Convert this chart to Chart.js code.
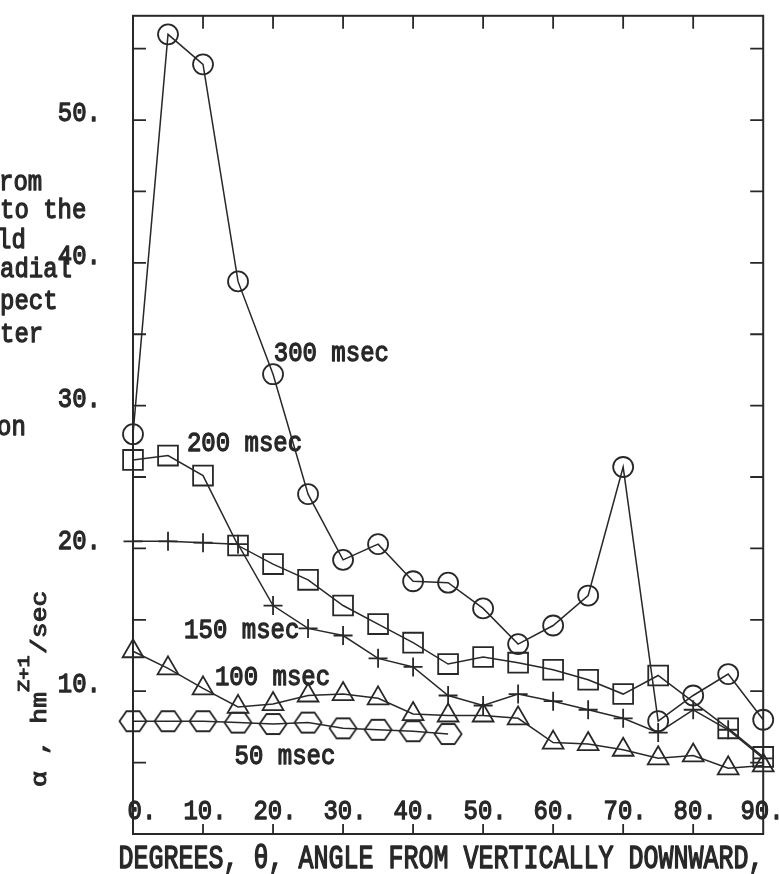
<!DOCTYPE html>
<html>
<head>
<meta charset="utf-8">
<script src="https://cdn.jsdelivr.net/npm/chart.js@4/dist/chart.umd.min.js"></script>
<style>
  html, body { margin: 0; padding: 0; background: #ffffff; }
  canvas { display: block; }
</style>
</head>
<body>
<canvas id="c" width="779" height="874"></canvas>
<script>
// Scattering coefficient alpha versus angle from vertically downward,
// one curve per gate delay.
const angles = [0, 5, 10, 15, 20, 25, 30, 35, 40, 45, 50, 55, 60, 65, 70, 75, 80, 85, 90];

const ms300 = [28.0, 56.0, 53.9, 38.7, 32.2, 23.8, 19.2, 20.3, 17.7, 17.6, 15.8, 13.3, 14.6, 16.7, 25.7, 7.9, 9.7, 11.2, 8.0];
const ms200 = [26.2, 26.5, 25.1, 20.2, 18.9, 17.8, 16.0, 14.7, 13.4, 11.9, 12.4, 12.0, 11.5, 10.8, 9.8, 11.1, null, 7.4, 5.4];
const ms150 = [20.5, 20.5, 20.4, 20.3, 16.0, 14.4, 13.9, 12.3, 11.7, 9.7, 9.0, 9.8, 9.3, 8.7, 8.1, 7.1, 8.7, 7.3, 5.3];
const ms100 = [12.8, 11.6, 10.2, 8.9, 9.1, 9.7, 9.8, 9.5, 8.4, 8.3, 8.3, 8.1, 6.4, 6.3, 5.9, 5.3, 5.5, 4.6, 4.8];
const ms50  = [7.9, 7.9, 7.9, 7.8, 7.7, 7.8, 7.4, 7.3, 7.2, 7.0];

const seriesNames = ['300 msec', '200 msec', '150 msec', '100 msec', '50 msec'];

const xTicks = [0, 10, 20, 30, 40, 50, 60, 70, 80, 90];
const xTickLabels = ['0.', '10.', '20.', '30.', '40.', '50.', '60.', '70.', '80.', '90.'];
const yMinorTicks = [5, 10, 15, 20, 25, 30, 35, 40, 45, 50, 55];
const yTickLabels = ['10.', '20.', '30.', '40.', '50.'];
const yTickValues = [10, 20, 30, 40, 50];

const xTitle = 'DEGREES, \u03b8, ANGLE FROM VERTICALLY DOWNWARD,';

// Curve captions, anchored in data units (angle, alpha) at the text baseline start.
const captions = [
  { text: '300 msec', x: 20.1, y: 33.1 },
  { text: '200 msec', x: 7.7,  y: 26.8 },
  { text: '150 msec', x: 7.3,  y: 13.7 },
  { text: '100 msec', x: 11.7, y: 10.4 },
  { text: '50 msec',  x: 14.5, y: 4.9 }
];

// Fragments of the neighbouring page text at the left margin.
const marginText = [
  { text: 'rom', x: -1, y: 190 },
  { text: 'to the', x: 0, y: 218 },
  { text: 'ld', x: -3, y: 248 },
  { text: 'adial', x: 0, y: 277 },
  { text: 'pect', x: 0, y: 309 },
  { text: 'ter', x: 0, y: 342 },
  { text: 'on', x: -3, y: 435 }
];

const ink = '#282828';
const mono = '"Liberation Mono", "Courier New", monospace';

Chart.defaults.elements.line.tension = 0;

function toPoints(vals) {
  return vals.map((v, i) => ({ x: angles[i], y: v }));
}

function hexagonMarker() {
  const c = document.createElement('canvas');
  c.width = 30; c.height = 24;
  const g = c.getContext('2d');
  g.strokeStyle = ink;
  g.lineWidth = 1.8;
  g.beginPath();
  g.moveTo(1.5, 12); g.lineTo(8.5, 2); g.lineTo(21.5, 2);
  g.lineTo(28.5, 12); g.lineTo(21.5, 22); g.lineTo(8.5, 22);
  g.closePath();
  g.stroke();
  return c;
}

function makeSet(label, vals, style, radius) {
  return {
    label: label,
    data: toPoints(vals),
    borderColor: ink,
    borderWidth: 1.5,
    pointStyle: style,
    pointRadius: radius,
    pointBorderColor: ink,
    pointBorderWidth: 1.8,
    pointBackgroundColor: 'rgba(0,0,0,0)',
    tension: 0,
    cubicInterpolationMode: 'default',
    spanGaps: true,
    clip: false
  };
}

function typed(ctx, s, x, y, align, sy, size) {
  ctx.save();
  ctx.font = size + 'px ' + mono;
  ctx.fillStyle = ink;
  ctx.strokeStyle = ink;
  ctx.lineWidth = 1.1;
  ctx.lineJoin = 'round';
  ctx.textAlign = align;
  ctx.textBaseline = 'alphabetic';
  ctx.translate(x, y);
  ctx.scale(1, sy);
  ctx.fillText(s, 0, 0);
  ctx.strokeText(s, 0, 0);
  ctx.restore();
}

const framePlugin = {
  id: 'plotFrame',
  afterDraw(chart) {
    const ctx = chart.ctx;
    const a = chart.chartArea;
    const xs = chart.scales.x, ys = chart.scales.y;

    // box
    ctx.save();
    ctx.strokeStyle = ink;
    ctx.lineWidth = 2;
    ctx.strokeRect(a.left, a.top, a.right - a.left, a.bottom - a.top);

    // inward ticks
    ctx.lineWidth = 1.8;
    ctx.beginPath();
    xTicks.forEach(v => {
      if (v <= 0 || v >= 90) return;
      const px = xs.getPixelForValue(v);
      ctx.moveTo(px, a.bottom); ctx.lineTo(px, a.bottom - 10);
      ctx.moveTo(px, a.top); ctx.lineTo(px, a.top + 13);
    });
    yMinorTicks.forEach(v => {
      const py = ys.getPixelForValue(v);
      ctx.moveTo(a.left, py); ctx.lineTo(a.left + 13, py);
      ctx.moveTo(a.right, py); ctx.lineTo(a.right - 13, py);
    });
    ctx.stroke();
    ctx.restore();

    // tick labels
    xTicks.forEach((v, i) => {
      let cx = xs.getPixelForValue(v) + 2;
      if (v === 0) cx = a.left + 9;
      if (v === 90) cx = chart.width - 17;
      typed(ctx, xTickLabels[i], cx, 819, 'center', 1.17, 24);
    });
    yTickValues.forEach((v, i) => {
      typed(ctx, yTickLabels[i], 101, ys.getPixelForValue(v) + 1, 'right', 1.17, 24);
    });

    // curve captions
    captions.forEach(c => {
      typed(ctx, c.text, xs.getPixelForValue(c.x), ys.getPixelForValue(c.y), 'left', 1.17, 24);
    });

    // axis titles
    typed(ctx, xTitle, 441, 868, 'center', 1.35, 25);

    ctx.save();
    ctx.translate(46, 787);
    ctx.rotate(-Math.PI / 2);
    ctx.scale(1.2, 1);
    ctx.font = '22px ' + mono;
    ctx.fillStyle = ink; ctx.strokeStyle = ink; ctx.lineWidth = 1.0;
    ctx.lineJoin = 'round';
    ctx.textBaseline = 'alphabetic';
    ctx.textAlign = 'left';
    const part1 = '\u03b1 , hm';
    ctx.fillText(part1, 0, 0); ctx.strokeText(part1, 0, 0);
    let w = ctx.measureText(part1).width;
    ctx.font = '17px ' + mono;
    ctx.fillText('Z+1', w, -17); ctx.strokeText('Z+1', w, -17);
    w += ctx.measureText('Z+1').width + 1;
    ctx.font = '22px ' + mono;
    ctx.fillText('/sec', w, 0); ctx.strokeText('/sec', w, 0);
    ctx.restore();

    // margin text from the facing page
    marginText.forEach(m => typed(ctx, m.text, m.x, m.y, 'left', 1.17, 24));
  }
};

new Chart(document.getElementById('c'), {
  type: 'line',
  data: {
    datasets: [
      makeSet(seriesNames[0], ms300, 'circle', 10),
      makeSet(seriesNames[1], ms200, 'rect', 14),
      makeSet(seriesNames[2], ms150, 'cross', 9.5),
      makeSet(seriesNames[3], ms100, 'triangle', 12),
      makeSet(seriesNames[4], ms50, hexagonMarker(), 12)
    ]
  },
  options: {
    responsive: false,
    animation: false,
    layout: { padding: { left: 133, right: 2, top: 12, bottom: 40 } },
    plugins: { legend: { display: false }, tooltip: { enabled: false } },
    scales: {
      x: { type: 'linear', min: 0, max: 90, display: false },
      y: { type: 'linear', min: 0, max: 57.3, display: false }
    }
  },
  plugins: [framePlugin]
});
</script>
</body>
</html>
